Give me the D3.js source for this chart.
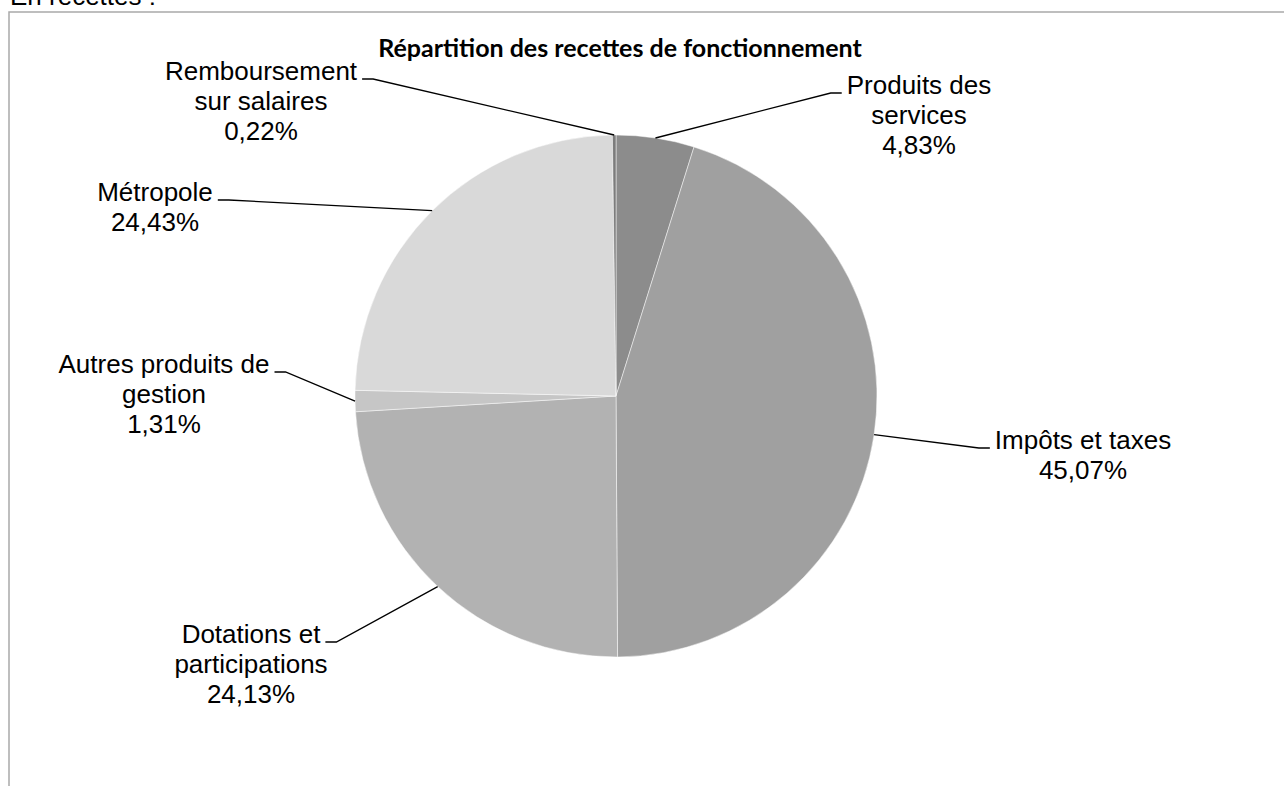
<!DOCTYPE html>
<html>
<head>
<meta charset="utf-8">
<script src="https://cdn.jsdelivr.net/npm/d3@7"></script>
<style>
  body { margin: 0; background: #fff; }
  svg { display: block; }
  .lbl { font-family: "Liberation Sans", Arial, sans-serif; font-size: 26px; fill: #000; }
  .title { font-family: Lato, "Open Sans", sans-serif; font-weight: bold; font-size: 25px; fill: #000; }
</style>
</head>
<body>
<svg width="1284" height="786"></svg>
<script>
// data (clockwise from 12 o'clock)
var categories = ["Produits des services", "Impôts et taxes", "Dotations et participations",
                  "Autres produits de gestion", "Métropole", "Remboursement sur salaires"];
var values = [4.83, 45.07, 24.13, 1.31, 24.43, 0.22];
var labelLines = [["Produits des", "services"], ["Impôts et taxes"], ["Dotations et", "participations"],
                  ["Autres produits de", "gestion"], ["Métropole"], ["Remboursement", "sur salaires"]];
var colors = ["#8c8c8c", "#a0a0a0", "#b2b2b2", "#c6c6c6", "#d9d9d9", "#7c7c7c"];

// label placement (text centre x, first baseline y, side)
var labelPos = [
  {x: 919, y: 94, side: "right"},
  {x: 1083, y: 449, side: "right"},
  {x: 251, y: 643, side: "left"},
  {x: 164, y: 373, side: "left"},
  {x: 155, y: 201, side: "left"},
  {x: 261, y: 80, side: "left"}
];

var svg = d3.select('svg');
var cx = 616, cy = 396, radius = 261;
var lineH = 30;

// page text above the frame, cut at the top as in the source page
svg.append('text')
    .attr('class', 'lbl')
    .attr('x', 10).attr('y', 5)
    .text('En recettes :');

// frame
svg.append('rect')
    .attr('x', 9).attr('y', 12)
    .attr('width', 1300).attr('height', 800)
    .attr('fill', 'none')
    .attr('stroke', '#a9a9a9')
    .attr('stroke-width', 1.5);

svg.append('text')
    .attr('class', 'title')
    .attr('x', 620).attr('y', 57)
    .attr('text-anchor', 'middle')
    .text('Répartition des recettes de fonctionnement');

var pie = d3.pie().sort(null).value(d => d);
var arcs = pie(values);
var arc = d3.arc().innerRadius(0).outerRadius(radius);
var edgeArc = d3.arc().innerRadius(radius).outerRadius(radius);

var g = svg.append('g').attr('transform', 'translate(' + cx + ',' + cy + ')');

g.selectAll('path.slice')
    .data(arcs)
    .enter().append('path')
    .attr('class', 'slice')
    .attr('d', arc)
    .attr('fill', (d, i) => colors[i])
    .attr('stroke', '#ffffff')
    .attr('stroke-opacity', 0.6)
    .attr('stroke-width', 0.8);

// labels
arcs.forEach(function(d, i) {
    var p = labelPos[i];
    var lines = labelLines[i].concat([values[i].toFixed(2).replace('.', ',') + '%']);
    var t = svg.append('text')
        .attr('class', 'lbl')
        .attr('text-anchor', 'middle');
    lines.forEach(function(s, k) {
        t.append('tspan').attr('x', p.x).attr('y', p.y + k * lineH).text(s);
    });
    var w = t.select('tspan').node().getComputedTextLength();
    var ly = p.y - 1;
    var c = edgeArc.centroid(d);
    var ax = cx + c[0], ay = cy + c[1];
    var pts;
    if (p.side === 'right') {
        var x0 = p.x - w / 2 - 5;
        pts = [[ax, ay], [x0 - 11, ly], [x0, ly]];
    } else {
        var x1 = p.x + w / 2 + 5;
        pts = [[ax, ay], [x1 + 11, ly], [x1, ly]];
    }
    svg.append('path')
        .attr('d', d3.line()(pts))
        .attr('fill', 'none')
        .attr('stroke', '#000')
        .attr('stroke-width', 1.3);
});
</script>
</body>
</html>
